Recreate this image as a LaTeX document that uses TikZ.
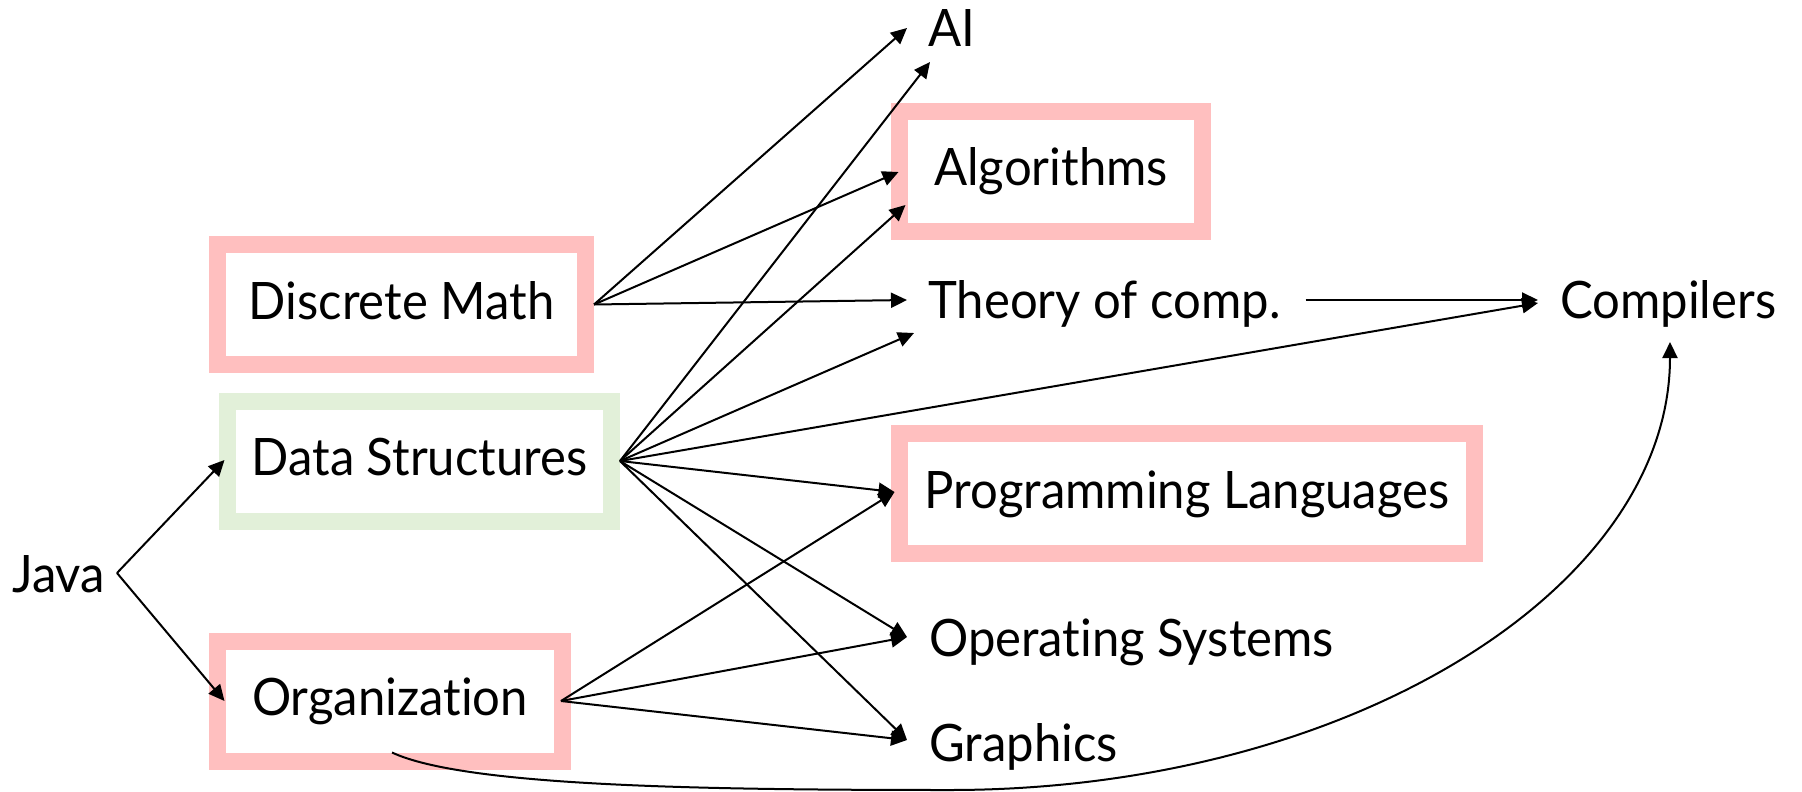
\documentclass[tikz,border=0pt]{standalone}
\usepackage{fontspec}
\setmainfont{Lato}[Ligatures={NoCommon,NoContextual}, FakeStretch=0.95]
\usetikzlibrary{arrows.meta}
\definecolor{boxpink}{HTML}{FFBFBF}
\definecolor{boxgreen}{HTML}{E2F0D9}
\newcommand{\coursefont}{\fontsize{51.6pt}{62pt}\selectfont}
\begin{document}
\begin{tikzpicture}[x=1pt,y=-1pt,
  course/.style={font=\coursefont, inner sep=0pt, anchor=base west},
  framed/.style={draw=#1, line width=17pt, minimum height=120pt,
    inner sep=0pt, text height=37pt, text depth=8pt, font=\coursefont},
  link/.style={line width=2pt, -{Triangle[length=16pt,width=15pt]}}
]
\useasboundingbox (0,0) rectangle (1802,792);

% framed courses
\node[framed=boxpink,  minimum width=368pt] (dm)  at (401.5,304.5) {Discrete Math};
\node[framed=boxgreen, minimum width=384pt] (ds)  at (419.5,461)   {Data Structures};
\node[framed=boxpink,  minimum width=345pt] (org) at (390,701)     {Organization};
\node[framed=boxpink,  minimum width=303pt] (alg) at (1051,171)    {Algorithms};
\node[framed=boxpink,  minimum width=575pt] (pl)  at (1187,493.5)  {Programming Languages};

% plain courses
\node[course] (java) at (12,592)   {Java};
\node[course] (ai)   at (928,47)   {AI};
\node[course] (toc)  at (928,318)  {Theory of comp.};
\node[course] (cmp)  at (1560,318) {Compilers};
\node[course] (os)   at (929,656)  {Operating Systems};
\node[course] (gfx)  at (929,761)  {Graphics};

% Java
\coordinate (javaout) at ([shift={(105,-19)}]java.base west);
\draw[link] (javaout) -- ([shift={(5.5,-1)}]ds.west);
\draw[link] (javaout) -- ([shift={(15.5,0)}]org.west);

% Discrete Math
\draw[link] (dm.east) -- ([shift={(-21,-19)}]ai.base west);
\draw[link] (dm.east) -- ([shift={(7.5,1)}]alg.west);
\draw[link] (dm.east) -- ([shift={(-21,-18)}]toc.base west);

% Data Structures
\draw[link] (ds.east) -- ([shift={(2,15)}]ai.base west);
\draw[link] (ds.east) -- ([shift={(14.5,34)}]alg.west);
\draw[link] (ds.east) -- ([shift={(-14,15)}]toc.base west);
\draw[link] (ds.east) -- ([shift={(-22,-15)}]cmp.base west);
\draw[link] (ds.east) -- ([shift={(3.5,-1.5)}]pl.west);
\draw[link] (ds.east) -- ([shift={(-22,-19)}]os.base west);
\draw[link] (ds.east) -- ([shift={(-22,-21)}]gfx.base west);

% Organization
\coordinate (orgout) at ([shift={(-10,0)}]org.east);
\draw[link] (orgout) -- ([shift={(3.5,-1.5)}]pl.west);
\draw[link] (orgout) -- ([shift={(-22,-19)}]os.base west);
\draw[link] (orgout) -- ([shift={(-22,-21)}]gfx.base west);

% Theory of computation
\draw[link] ([shift={(25,-18)}]toc.base east) -- ([shift={(-22,-18)}]cmp.base west);

% long sweep from Organization up to Compilers
\coordinate (low) at (950,790);
\draw[link] ([shift={(2,-17)}]org.south)
  .. controls +(72.5,33.8) and +(-250,0) .. (low)
  .. controls +(397.7,0) and +(0,247.4) .. ([shift={(110,24)}]cmp.base west);
\end{tikzpicture}
\end{document}
